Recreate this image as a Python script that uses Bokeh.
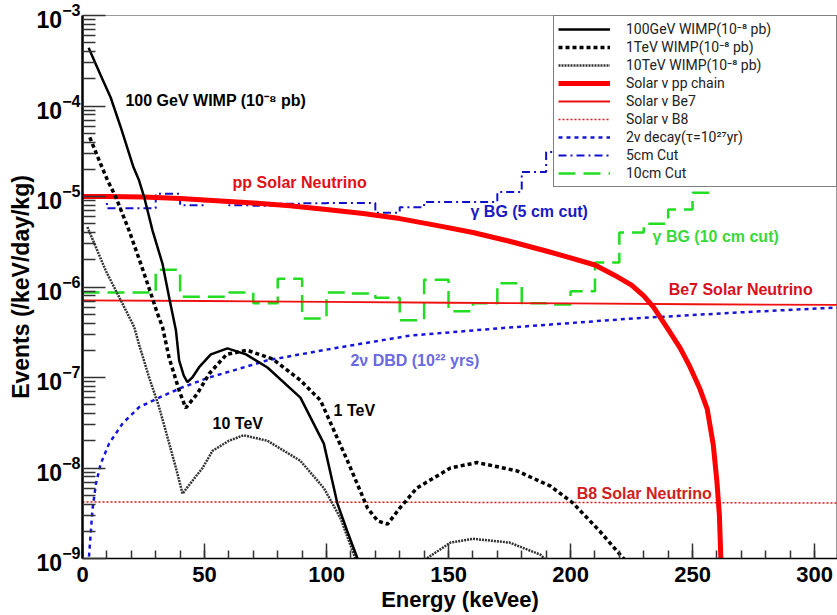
from bokeh.plotting import figure
from bokeh.models import Legend, LegendItem, Label, FixedTicker
from bokeh.embed import file_html
from bokeh.resources import INLINE

# ---------------- data ----------------
# 100 GeV WIMP (1e-8 pb)
wimp100_E = [2.5, 7.4, 11.5, 15.6, 20.9, 23.2, 25.3, 28.7, 32.8, 35.8, 38.3, 39.6, 41.5, 43.0, 45.0,
             47.8, 52.6, 59.4, 67.0, 75.8, 89.3, 98.9, 104.4, 108.5, 112.7, 114.0]
wimp100_R = [4.4e-4, 2.2e-4, 1.25e-4, 5.9e-5, 2.1e-5, 1.5e-5, 9.8e-6, 4.2e-6, 1.8e-6, 7.0e-7, 3.3e-7,
             1.55e-7, 1.05e-7, 8.9e-8, 1.0e-7, 1.3e-7, 1.8e-7, 2.1e-7, 1.8e-7, 1.29e-7, 6.0e-8, 1.86e-8,
             4.1e-9, 2.0e-9, 1.0e-9, 7e-10]
# 1 TeV WIMP
wimp1t_E = [3.0, 7.4, 10.3, 13.7, 19.1, 23.9, 28.0, 30.7, 32.8, 35.5, 39.6, 42.3, 47.0, 51.9, 59.0, 67.5,
            78.0, 89.3, 97.5, 108.6, 116.8, 121.0, 125.0, 130.0, 137.0, 150.8, 161.7, 178.0, 191.8, 201.0,
            212.0, 221.7, 224.0]
wimp1t_R = [4.5e-5, 2.3e-5, 1.5e-5, 9.8e-6, 4.2e-6, 1.8e-6, 8.5e-7, 5.1e-7, 3.6e-7, 1.65e-7, 7.2e-8, 4.6e-8,
            6.6e-8, 1.1e-7, 1.8e-7, 2.0e-7, 1.6e-7, 9.3e-8, 5.6e-8, 1.2e-8, 3.6e-9, 2.6e-9, 2.4e-9, 3.6e-9,
            6.0e-9, 1.0e-8, 1.15e-8, 9.3e-9, 6.3e-9, 4.1e-9, 2.0e-9, 1.0e-9, 8e-10]
# 10 TeV WIMP (two visible pieces)
wimp10t_E = [2.0, 5.5, 9.6, 13.7, 17.8, 21.2, 23.2, 27.3, 31.4, 34.8, 38.3, 41.0, 45.0, 49.2, 53.3, 60.0,
             66.0, 75.8, 89.3, 98.9, 105.7, 111.0, 113.0]
wimp10t_R = [4.6e-6, 2.75e-6, 1.5e-6, 9.1e-7, 5.5e-7, 3.6e-7, 2.3e-7, 1.0e-7, 4.7e-8, 2.2e-8, 1.0e-8, 5.2e-9,
             7.2e-9, 1.0e-8, 1.55e-8, 2.0e-8, 2.3e-8, 2.0e-8, 1.2e-8, 6.0e-9, 2.8e-9, 1.15e-9, 8e-10]
wimp10t_E2 = [138.0, 141.0, 150.8, 160.0, 175.0, 187.7, 191.0]
wimp10t_R2 = [8e-10, 1.0e-9, 1.5e-9, 1.65e-9, 1.5e-9, 1.1e-9, 9e-10]
# Solar neutrino pp chain
pp_E = [0, 10, 25, 40, 55, 70, 85, 100, 115, 130, 145, 160, 175, 190, 200, 210, 218, 225, 230, 234,
        240, 245, 249, 253, 256, 258.5, 260, 261, 261.6, 262]
pp_R = [1.0e-5, 1.0e-5, 9.9e-6, 9.5e-6, 9.0e-6, 8.5e-6, 7.9e-6, 7.2e-6, 6.5e-6, 5.7e-6, 4.8e-6, 4.0e-6,
        3.2e-6, 2.5e-6, 2.1e-6, 1.75e-6, 1.35e-6, 1.05e-6, 8.0e-7, 6.0e-7, 3.4e-7, 2.1e-7, 1.3e-7,
        7.5e-8, 4.5e-8, 1.8e-8, 7e-9, 3e-9, 1e-9, 4e-10]
# Solar neutrino Be7
be7_E = [0, 50, 100, 150, 200, 250, 310]
be7_R = [7.1e-7, 7.0e-7, 6.85e-7, 6.7e-7, 6.6e-7, 6.45e-7, 6.35e-7]
# Solar neutrino B8
b8_E = [0, 100, 200, 310]
b8_R = [4.2e-9, 4.2e-9, 4.15e-9, 4.1e-9]
# 2nu double beta decay
dbd_E = [2.4, 2.6, 4.1, 5.5, 7.5, 10.9, 16.4, 23.2, 31.4, 41, 51.9, 62, 75.8, 103, 134, 171, 226, 267, 310]
dbd_R = [7e-10, 1e-9, 3.5e-9, 6.7e-9, 1.12e-8, 1.86e-8, 3.1e-8, 4.7e-8, 6.0e-8, 7.8e-8, 1.0e-7, 1.2e-7,
         1.55e-7, 2.1e-7, 2.9e-7, 3.5e-7, 4.5e-7, 5.2e-7, 5.95e-7]
# gamma background, 5 cm cut (10 keV bins, edges 0..200)
cut5_edges = list(range(0, 210, 10))
cut5_R = [9.8e-6, 7.4e-6, 7.4e-6, 1.07e-5, 8.0e-6, 9.0e-6, 8.0e-6, 7.9e-6, 8.3e-6, 8.4e-6, 8.5e-6, 8.5e-6,
          6.6e-6, 7.6e-6, 8.7e-6, 8.7e-6, 8.7e-6, 1.12e-5, 1.87e-5, 3.1e-5]
# gamma background, 10 cm cut (10 keV bins, edges 0..260)
cut10_edges = list(range(0, 270, 10))
cut10_R = [8.7e-7, 8.7e-7, 8.7e-7, 1.55e-6, 7.8e-7, 7.8e-7, 8.7e-7, 6.6e-7, 1.23e-6, 4.5e-7, 8.7e-7, 8.5e-7,
           7.6e-7, 4.3e-7, 1.2e-6, 5.4e-7, 6.6e-7, 1.1e-6, 6.6e-7, 6.4e-7, 9.0e-7, 1.86e-6, 4.0e-6, 5.0e-6,
           7.2e-6, 1.1e-5]

x_major = [0, 50, 100, 150, 200, 250, 300]
x_minor = list(range(0, 310, 10))
y_major = [1e-9, 1e-8, 1e-7, 1e-6, 1e-5, 1e-4, 1e-3]
y_minor = [k * 10.0 ** n for n in range(-9, -3) for k in range(2, 10)]

legend_labels = ["100GeV WIMP(10\u207b\u2078 pb)", "1TeV WIMP(10\u207b\u2078 pb)", "10TeV WIMP(10\u207b\u2078 pb)",
                 "Solar \u03bd pp chain", "Solar \u03bd Be7", "Solar \u03bd B8",
                 "2\u03bd decay(\u03c4=10\u00b2\u2077yr)", "5cm Cut", "10cm Cut"]

FONT = "Liberation Sans"

p = figure(width=837, height=615, x_range=(0, 309.4), y_range=(1e-9, 1e-3), y_axis_type="log",
           output_backend="svg", toolbar_location=None,
           min_border_left=82, min_border_top=15, min_border_bottom=57, min_border_right=0)
p.background_fill_color = "white"
p.border_fill_color = "white"
p.xgrid.visible = False
p.ygrid.visible = False
p.outline_line_color = "#999999"
p.outline_line_width = 1

# histograms
def step_xy(edges, vals):
    return edges, list(vals) + [vals[-1]]

x10, y10 = step_xy(cut10_edges, cut10_R)
r_cut10 = p.step(x10, y10, mode="after", line_color="#22dd22", line_width=2.5, line_dash="17 8")
x5, y5 = step_xy(cut5_edges, cut5_R)
r_cut5 = p.step(x5, y5, mode="after", line_color="#1010cc", line_width=2, line_dash="8 4 2 4")

r_be7 = p.line(be7_E, be7_R, line_color="#ee1111", line_width=1.8)
r_b8 = p.line(b8_E, b8_R, line_color="#ee1111", line_width=1.5, line_dash="2 2")
r_dbd = p.line(dbd_E, dbd_R, line_color="#1515dd", line_width=2.5, line_dash="4 4")
r_pp = p.line(pp_E, pp_R, line_color="#ff0000", line_width=5)
r_10t = p.line(wimp10t_E, wimp10t_R, line_color="#333333", line_width=2.5, line_dash="2 1")
p.line(wimp10t_E2, wimp10t_R2, line_color="#333333", line_width=2.5, line_dash="2 1")
r_1t = p.line(wimp1t_E, wimp1t_R, line_color="black", line_width=3.5, line_dash="4 3")
r_100 = p.line(wimp100_E, wimp100_R, line_color="black", line_width=2.5)

renderers = [r_100, r_1t, r_10t, r_pp, r_be7, r_b8, r_dbd, r_cut5, r_cut10]
items = [LegendItem(label=lab, renderers=[r]) for lab, r in zip(legend_labels, renderers)]
legend = Legend(items=items, location="top_right", margin=0, padding=4, spacing=0,
                glyph_width=52, glyph_height=18, label_height=18, label_standoff=16, label_width=206,
                label_text_font="Roboto", label_text_font_size="14px", label_text_color="#222222",
                border_line_color="black", border_line_width=1.5,
                background_fill_color="white", background_fill_alpha=1.0)
p.add_layout(legend, "center")

# annotations
ann_text = ["100 GeV WIMP (10\u207b\u2078 pb)", "pp Solar Neutrino", "\u03b3 BG (5 cm cut)",
            "\u03b3 BG (10 cm cut)", "Be7 Solar Neutrino", "2\u03bd DBD (10\u00b2\u00b2 yrs)",
            "10 TeV", "1 TeV", "B8 Solar Neutrino"]
ann_x = [17.6, 61.5, 159.0, 233.6, 240.2, 109.8, 53.3, 102.9, 202.5]
ann_y = [1.15e-4, 1.43e-5, 6.8e-6, 3.6e-6, 9.4e-7, 1.54e-7, 3.1e-8, 4.3e-8, 5.25e-9]
ann_color = ["black", "#e01018", "#1a1ac0", "#3ad83a", "#d81020", "#6a6ae0", "black", "black", "#d02020"]
for t, x, y, c in zip(ann_text, ann_x, ann_y, ann_color):
    p.add_layout(Label(x=x, y=y, text=t, text_color=c, text_font=FONT, text_font_style="bold",
                       text_font_size="16px", text_baseline="middle", text_align="left"))

# axes
p.xaxis.ticker = FixedTicker(ticks=x_major, minor_ticks=x_minor)
p.yaxis.ticker = FixedTicker(ticks=y_major, minor_ticks=y_minor)
for ax in (p.xaxis, p.yaxis):
    ax.major_label_text_font = FONT
    ax.major_label_text_font_style = "bold"
    ax.major_label_text_color = "black"
    ax.axis_label_text_font = FONT
    ax.axis_label_text_font_style = "bold"
    ax.axis_label_text_color = "black"
    ax.major_tick_out = 0
    ax.minor_tick_out = 0
    ax.axis_line_color = "black"
    ax.major_tick_line_color = "#333333"
    ax.minor_tick_line_color = "#333333"

p.xaxis.axis_label = "Energy (keVee)"
p.xaxis.axis_label_text_font_size = "22px"
p.xaxis.major_label_text_font_size = "22px"
p.xaxis.major_tick_in = 15
p.xaxis.minor_tick_in = 8
p.xaxis.major_label_standoff = 8
p.xaxis.axis_label_standoff = 2
p.xaxis.axis_line_width = 1.5
p.xaxis.major_tick_line_width = 1.5
p.xaxis.minor_tick_line_width = 1.5

p.yaxis.axis_label = "Events (/keV/day/kg)"
p.yaxis.axis_label_text_font_size = "23px"
p.yaxis.major_label_text_font_size = "23px"
p.yaxis.major_tick_in = 23
p.yaxis.minor_tick_in = 13
p.yaxis.major_label_standoff = 2
p.yaxis.axis_label_standoff = 0
p.yaxis.axis_line_width = 2.5
p.yaxis.major_tick_line_width = 1.5
p.yaxis.minor_tick_line_width = 1.5

open("out.html", "w").write(file_html(p, INLINE))
